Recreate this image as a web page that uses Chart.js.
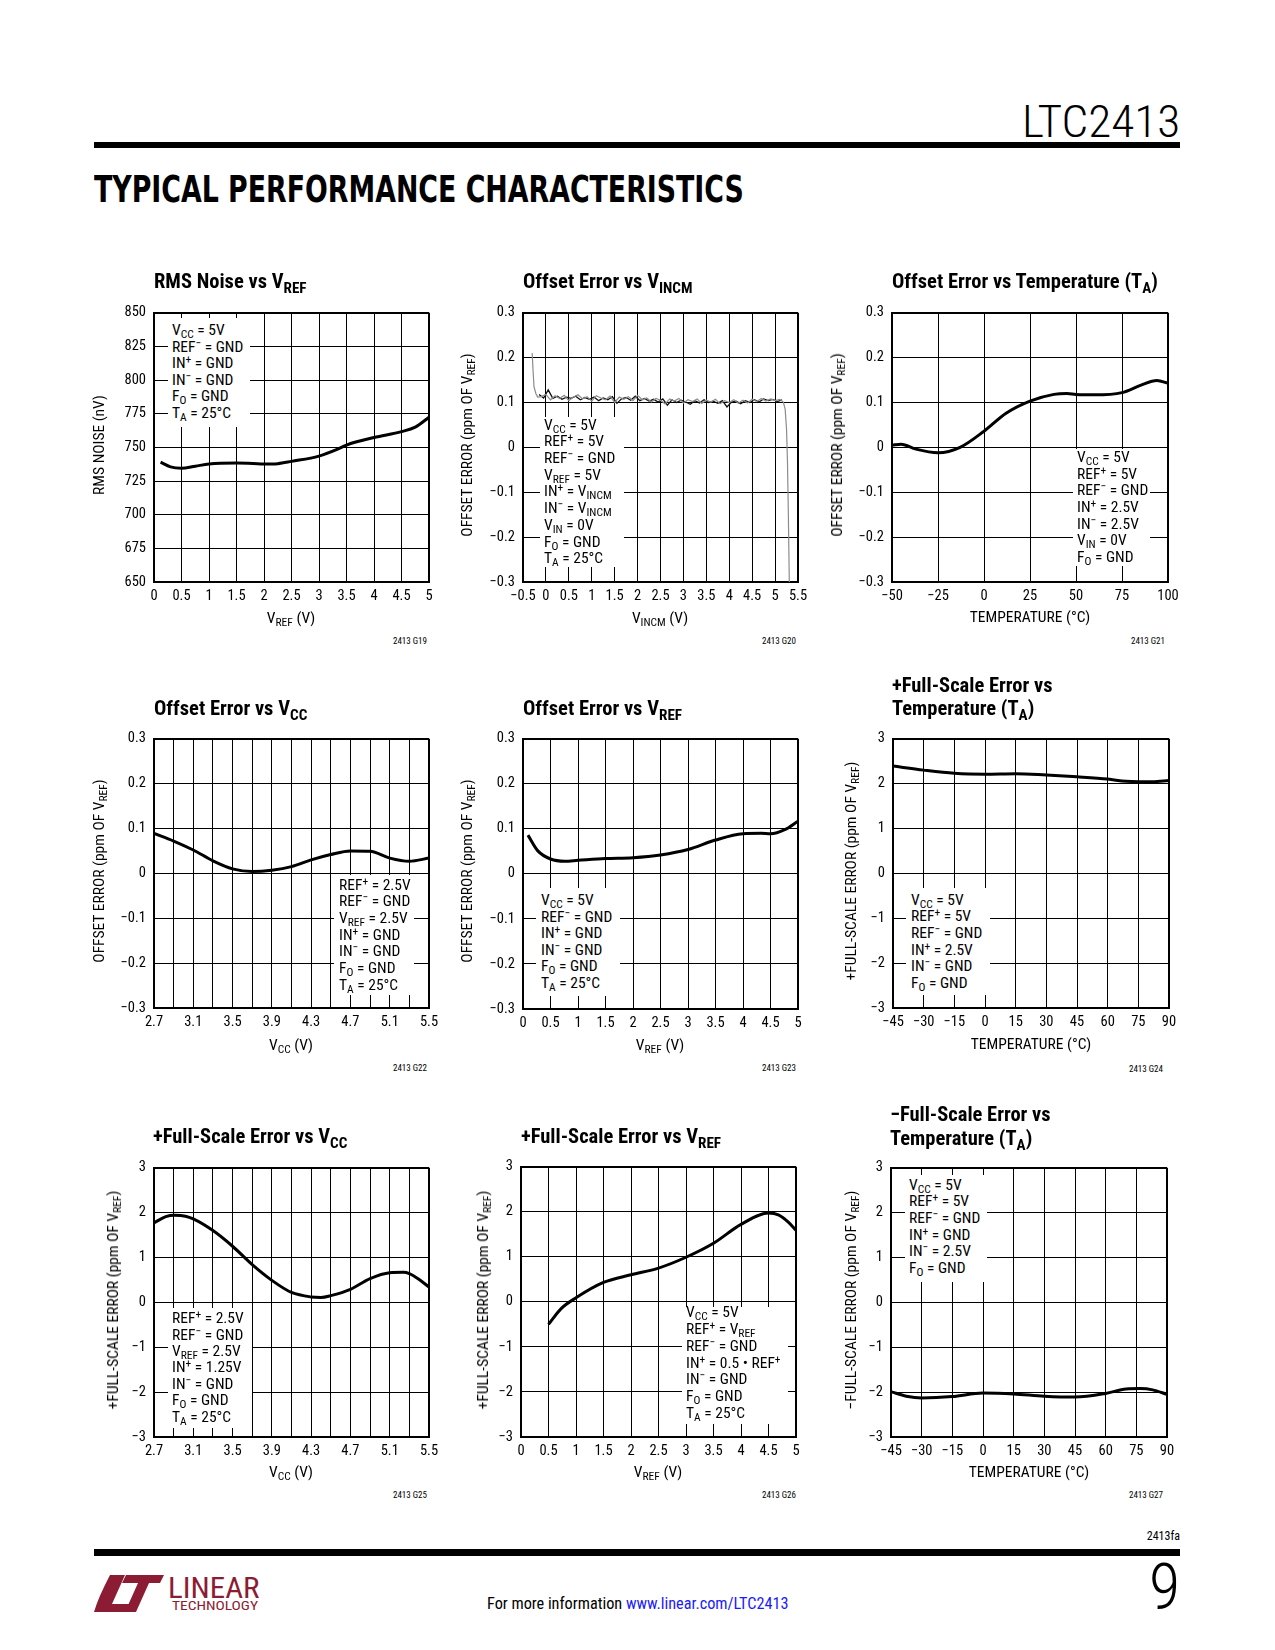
<!DOCTYPE html>
<html>
<head>
<meta charset="utf-8">
<script src="https://cdn.jsdelivr.net/npm/chart.js@4.4.0/dist/chart.umd.min.js"></script>
<style>
html, body { margin: 0; padding: 0; background: #fff; }
body { width: 1275px; height: 1650px; position: relative; overflow: hidden; color: #000;
       font-family: 'Liberation Sans Narrow', 'Arial Narrow', 'Roboto Condensed', 'DejaVu Sans Condensed', sans-serif; }
.t { position: absolute; white-space: nowrap; }
canvas { position: absolute; }
sub { font-size: 0.74em; vertical-align: -0.3em; line-height: 0; }
sup { font-size: 0.74em; vertical-align: 0.45em; line-height: 0; }
.title { font-weight: bold; font-size: 20.5px; line-height: 23px; }
.axt { font-size: 15.5px; line-height: 18px; }
.code { font-size: 9px; line-height: 11px; }
.note { position: absolute; background: #fff; z-index: 2; }
.noteText { position: absolute; z-index: 3; font-size: 15.5px; white-space: nowrap; }
</style>
</head>
<body>
<script>
const FONT = "'Liberation Sans Narrow', 'Arial Narrow', 'Roboto Condensed', 'DejaVu Sans Condensed', sans-serif";

// G19 RMS noise vs VREF
const g19Vref  = [0.12, 0.3, 0.5, 0.75, 1.0, 1.5, 1.8, 2.0, 2.25, 2.5, 3.0, 3.35, 3.5, 4.0, 4.5, 4.75, 5.0];
const g19Noise = [739, 735.5, 734.5, 736, 737.6, 738.3, 738, 737.6, 737.9, 739.6, 743.5, 748.8, 751.7, 757.3, 761.7, 765, 772.3];

// G20 offset error vs VINCM (two overlaid noisy traces)
const g20GrayX = [-0.30, -0.28, -0.26, -0.22, -0.18, -0.1, 0.0, 0.1, 0.2, 0.3, 0.4, 0.5, 0.6, 0.7, 0.8, 0.9,
                  1.0, 1.1, 1.2, 1.3, 1.4, 1.5, 1.6, 1.7, 1.8, 1.9, 2.0, 2.1, 2.2, 2.3, 2.4, 2.5, 2.6, 2.7, 2.8, 2.9,
                  3.0, 3.1, 3.2, 3.3, 3.4, 3.5, 3.6, 3.7, 3.8, 3.9, 4.0, 4.1, 4.2, 4.3, 4.4, 4.5, 4.6, 4.7, 4.8, 4.9,
                  5.0, 5.1, 5.18, 5.22, 5.25, 5.27, 5.29, 5.31];
const g20GrayY = [0.21, 0.17, 0.135, 0.12, 0.112, 0.113, 0.118, 0.106, 0.115, 0.109, 0.116, 0.104, 0.112, 0.117, 0.108, 0.113,
                  0.103, 0.115, 0.110, 0.106, 0.114, 0.100, 0.112, 0.107, 0.113, 0.104, 0.116, 0.106, 0.110, 0.101, 0.109, 0.105, 0.097, 0.108, 0.103, 0.109,
                  0.099, 0.106, 0.102, 0.108, 0.098, 0.105, 0.101, 0.107, 0.097, 0.104, 0.100, 0.106, 0.098, 0.105, 0.099, 0.107, 0.102, 0.109, 0.103, 0.108,
                  0.104, 0.107, 0.101, 0.085, 0.04, -0.03, -0.15, -0.30];
const g20BlackX = [-0.15, -0.05, 0.05, 0.15, 0.25, 0.35, 0.45, 0.55, 0.65, 0.75, 0.85, 0.95,
                   1.05, 1.15, 1.25, 1.35, 1.45, 1.55, 1.65, 1.75, 1.85, 1.95,
                   2.05, 2.15, 2.25, 2.35, 2.45, 2.55, 2.65, 2.75, 2.85, 2.95,
                   3.05, 3.15, 3.25, 3.35, 3.45, 3.55, 3.65, 3.75, 3.85, 3.95,
                   4.05, 4.15, 4.25, 4.35, 4.45, 4.55, 4.65, 4.75, 4.85, 4.95, 5.05, 5.15];
const g20BlackY = [0.118, 0.110, 0.128, 0.109, 0.114, 0.107, 0.112, 0.109, 0.114, 0.106, 0.111, 0.107,
                   0.112, 0.104, 0.110, 0.106, 0.113, 0.098, 0.108, 0.111, 0.105, 0.114,
                   0.104, 0.109, 0.103, 0.107, 0.101, 0.108, 0.094, 0.106, 0.100, 0.105,
                   0.101, 0.096, 0.104, 0.099, 0.106, 0.100, 0.103, 0.098, 0.104, 0.090,
                   0.101, 0.103, 0.097, 0.104, 0.100, 0.106, 0.101, 0.108, 0.104, 0.107, 0.102, 0.106];

// G21 offset error vs temperature
const g21Temp   = [-50, -45, -37, -25, -13, 0, 12, 25, 38, 45, 50, 60, 75, 85, 94, 100];
const g21Offset = [0.005, 0.007, -0.004, -0.012, 0.0, 0.036, 0.076, 0.103, 0.118, 0.120, 0.118, 0.117, 0.122, 0.138, 0.149, 0.143];

// G22 offset error vs VCC
const g22Vcc    = [2.7, 2.9, 3.1, 3.3, 3.5, 3.7, 3.9, 4.1, 4.3, 4.5, 4.7, 4.9, 5.1, 5.3, 5.5];
const g22Offset = [0.089, 0.072, 0.052, 0.028, 0.010, 0.004, 0.007, 0.015, 0.030, 0.042, 0.050, 0.049, 0.034, 0.027, 0.034];

// G23 offset error vs VREF
const g23Vref   = [0.09, 0.27, 0.5, 0.76, 1.0, 1.5, 2.0, 2.5, 3.0, 3.5, 4.0, 4.33, 4.5, 4.76, 5.0];
const g23Offset = [0.086, 0.051, 0.033, 0.028, 0.030, 0.034, 0.036, 0.042, 0.054, 0.075, 0.089, 0.090, 0.089, 0.098, 0.117];

// G24 +full-scale error vs temperature
const g24Temp = [-45, -30, -15, 0, 15, 30, 45, 60, 69, 75, 82, 90];
const g24Err  = [2.39, 2.30, 2.23, 2.21, 2.22, 2.19, 2.15, 2.10, 2.05, 2.04, 2.04, 2.07];

// G25 +full-scale error vs VCC
const g25Vcc = [2.7, 2.82, 2.91, 3.02, 3.1, 3.3, 3.5, 3.7, 3.9, 4.1, 4.3, 4.4, 4.5, 4.7, 4.9, 5.1, 5.24, 5.3, 5.4, 5.5];
const g25Err = [1.77, 1.91, 1.94, 1.92, 1.86, 1.60, 1.25, 0.84, 0.49, 0.22, 0.12, 0.11, 0.15, 0.29, 0.53, 0.66, 0.67, 0.64, 0.51, 0.34];

// G26 +full-scale error vs VREF
const g26Vref = [0.5, 0.73, 1.0, 1.5, 2.0, 2.5, 3.0, 3.5, 4.0, 4.5, 4.68, 4.86, 5.0];
const g26Err  = [-0.50, -0.15, 0.09, 0.43, 0.60, 0.75, 0.99, 1.30, 1.72, 1.97, 1.93, 1.77, 1.59];

// G27 -full-scale error vs temperature
const g27Temp = [-45, -37.5, -30, -15, 0, 15, 30, 45, 60, 70, 77, 83, 90];
const g27Err  = [-1.99, -2.09, -2.13, -2.10, -2.02, -2.04, -2.09, -2.11, -2.03, -1.93, -1.92, -1.95, -2.05];

// axis ranges: [min, max, step, label every n-th tick]
const axVref  = [0, 5, 0.5, 1];
const axVincm = [-0.5, 5.5, 0.5, 1];
const axTemp1 = [-50, 100, 25, 1];
const axTemp2 = [-45, 90, 15, 1];
const axVcc   = [2.7, 5.5, 0.2, 2];
const axNoise = [650, 850, 25, 1];
const axOff   = [-0.3, 0.3, 0.1, 1];
const axFs    = [-3, 3, 1, 1];

const Y_W = 60, X_H = 30, PAD_T = 12, PAD_R = 24;

function fmt(v) {
    const s = Math.abs(v).toFixed(1).replace(/\.0$/, '');
    return (v < -1e-9 ? '\u2212' : '') + s;
}

function axis(a, dir) {
    return {
        type: 'linear', min: a[0], max: a[1],
        afterFit: s => { if (dir === 'x') s.height = X_H; else s.width = Y_W; },
        ticks: {
            stepSize: a[2], autoSkip: false, maxRotation: 0, color: '#000',
            padding: dir === 'x' ? 6 : 8,
            font: { family: FONT, size: 14.5 },
            callback: (v, i) => (i % a[3]) ? '' : fmt(v)
        },
        grid: {
            color: '#000', drawTicks: false,
            lineWidth: c => (c.index === 0 || c.index === c.scale.ticks.length - 1) ? 2 : 1
        },
        border: { color: '#000', width: 2 }
    };
}

function plot(area, xa, ya, series) {
    const [L, T, W, H] = area;
    const cv = document.createElement('canvas');
    const cw = W + Y_W + PAD_R, ch = H + PAD_T + X_H;
    cv.width = cw; cv.height = ch;
    cv.style.left = (L - Y_W) + 'px';
    cv.style.top = (T - PAD_T) + 'px';
    cv.style.width = cw + 'px';
    cv.style.height = ch + 'px';
    document.body.appendChild(cv);
    new Chart(cv, {
        type: 'scatter',
        data: {
            datasets: series.map(s => ({
                data: s.x.map((x, i) => ({ x: x, y: s.y[i] })),
                showLine: true,
                borderColor: s.color || '#000',
                borderWidth: s.width || 3,
                pointRadius: 0,
                cubicInterpolationMode: s.raw ? 'default' : 'monotone',
                tension: s.raw ? 0 : 0.4
            }))
        },
        options: {
            responsive: false, animation: false, devicePixelRatio: 1, events: [],
            layout: { padding: { left: 0, top: PAD_T, right: PAD_R, bottom: 0 } },
            plugins: { legend: { display: false }, tooltip: { enabled: false } },
            scales: { x: axis(xa, 'x'), y: axis(ya, 'y') }
        }
    });
}

function text(x, y, html, cls, align) {
    const d = document.createElement('div');
    d.className = 't ' + (cls || '');
    d.innerHTML = html;
    d.style.left = x + 'px';
    d.style.top = y + 'px';
    if (align === 'right') d.style.transform = 'translateX(-100%)';
    if (align === 'center') d.style.transform = 'translate(-50%, -50%)';
    if (align === 'rot') d.style.transform = 'translate(-50%, -50%) rotate(-90deg)';
    document.body.appendChild(d);
    return d;
}

function note(box, tx, firstY, gap, lines) {
    const b = document.createElement('div');
    b.className = 'note';
    b.style.left = box[0] + 'px'; b.style.top = box[1] + 'px';
    b.style.width = (box[2] - box[0]) + 'px'; b.style.height = (box[3] - box[1]) + 'px';
    document.body.appendChild(b);
    const t = document.createElement('div');
    t.className = 'noteText';
    t.style.left = tx + 'px';
    t.style.top = (firstY - gap / 2) + 'px';
    t.style.lineHeight = gap + 'px';
    t.innerHTML = lines.join('<br>');
    document.body.appendChild(t);
}

// plot areas [left, top, width, height]
plot([154, 308, 275, 274], axVref, axNoise, [{ x: g19Vref, y: g19Noise }]);
plot([523, 308, 275, 274], axVincm, axOff, [
    { x: g20GrayX, y: g20GrayY, color: '#8c8c8c', width: 1.2, raw: true },
    { x: g20BlackX, y: g20BlackY, color: '#111', width: 1.3, raw: true }
]);
plot([892, 308, 276, 274], axTemp1, axOff, [{ x: g21Temp, y: g21Offset }]);
plot([154, 734, 275, 274], axVcc, axOff, [{ x: g22Vcc, y: g22Offset }]);
plot([523, 734, 275, 275], axVref, axOff, [{ x: g23Vref, y: g23Offset }]);
plot([893, 734, 276, 274], axTemp2, axFs, [{ x: g24Temp, y: g24Err }]);
plot([154, 1163, 275, 274], axVcc, axFs, [{ x: g25Vcc, y: g25Err }]);
plot([521, 1162, 275, 275], axVref, axFs, [{ x: g26Vref, y: g26Err }]);
plot([891, 1163, 276, 274], axTemp2, axFs, [{ x: g27Temp, y: g27Err }]);

// chart titles
text(154, 270, 'RMS Noise vs V<sub>REF</sub>', 'title');
text(523, 270, 'Offset Error vs V<sub>INCM</sub>', 'title');
text(892, 270, 'Offset Error vs Temperature (T<sub>A</sub>)', 'title');
text(154, 697, 'Offset Error vs V<sub>CC</sub>', 'title');
text(523, 697, 'Offset Error vs V<sub>REF</sub>', 'title');
text(892, 674, '+Full-Scale Error vs<br>Temperature (T<sub>A</sub>)', 'title');
text(153, 1125, '+Full-Scale Error vs V<sub>CC</sub>', 'title');
text(521, 1125, '+Full-Scale Error vs V<sub>REF</sub>', 'title');
text(890, 1102, '\u2212Full-Scale Error vs<br>Temperature (T<sub>A</sub>)', 'title').style.lineHeight = '24px';

// x axis titles
const vref = 'V<sub>REF</sub> (V)', vcc = 'V<sub>CC</sub> (V)', temp = 'TEMPERATURE (°C)';
text(291, 618, vref, 'axt', 'center');
text(660, 618, 'V<sub>INCM</sub> (V)', 'axt', 'center');
text(1030, 617, temp, 'axt', 'center');
text(291, 1045, vcc, 'axt', 'center');
text(660, 1045, vref, 'axt', 'center');
text(1031, 1044, temp, 'axt', 'center');
text(291, 1472, vcc, 'axt', 'center');
text(658, 1472, vref, 'axt', 'center');
text(1029, 1472, temp, 'axt', 'center');

// y axis titles
const offT = 'OFFSET ERROR (ppm OF V<sub>REF</sub>)';
const fsT = 'FULL-SCALE ERROR (ppm OF V<sub>REF</sub>)';
text(99, 445, 'RMS NOISE (nV)', 'axt', 'rot');
text(467, 445, offT, 'axt', 'rot');
text(837, 445, offT, 'axt', 'rot');
text(99, 871, offT, 'axt', 'rot');
text(467, 871, offT, 'axt', 'rot');
text(851, 871, '+' + fsT, 'axt', 'rot');
text(113, 1300, '+' + fsT, 'axt', 'rot');
text(483, 1300, '+' + fsT, 'axt', 'rot');
text(851, 1300, '\u2212' + fsT, 'axt', 'rot');

// figure codes
[[427, 636, 'G19'], [796, 636, 'G20'], [1165, 636, 'G21'],
 [427, 1063, 'G22'], [796, 1063, 'G23'], [1163, 1064, 'G24'],
 [427, 1490, 'G25'], [796, 1490, 'G26'], [1163, 1490, 'G27']].forEach(c => text(c[0], c[1], '2413 ' + c[2], 'code', 'right'));

// condition boxes
note([168, 318, 250, 427], 172, 330.7, 16.5,
    ['V<sub>CC</sub> = 5V', 'REF<sup>\u2212</sup> = GND', 'IN<sup>+</sup> = GND', 'IN<sup>\u2212</sup> = GND', 'F<sub>O</sub> = GND', 'T<sub>A</sub> = 25°C']);
note([540, 417, 624, 567], 544, 425, 16.7,
    ['V<sub>CC</sub> = 5V', 'REF<sup>+</sup> = 5V', 'REF<sup>\u2212</sup> = GND', 'V<sub>REF</sub> = 5V', 'IN<sup>+</sup> = V<sub>INCM</sub>',
     'IN<sup>\u2212</sup> = V<sub>INCM</sub>', 'V<sub>IN</sub> = 0V', 'F<sub>O</sub> = GND', 'T<sub>A</sub> = 25°C']);
note([1073, 449, 1150, 566], 1077, 457.3, 16.67,
    ['V<sub>CC</sub> = 5V', 'REF<sup>+</sup> = 5V', 'REF<sup>\u2212</sup> = GND', 'IN<sup>+</sup> = 2.5V', 'IN<sup>\u2212</sup> = 2.5V', 'V<sub>IN</sub> = 0V', 'F<sub>O</sub> = GND']);
note([334, 875, 414, 995], 339, 885, 16.67,
    ['REF<sup>+</sup> = 2.5V', 'REF<sup>\u2212</sup> = GND', 'V<sub>REF</sub> = 2.5V', 'IN<sup>+</sup> = GND', 'IN<sup>\u2212</sup> = GND', 'F<sub>O</sub> = GND', 'T<sub>A</sub> = 25°C']);
note([536, 888, 620, 996], 541, 900.7, 16.5,
    ['V<sub>CC</sub> = 5V', 'REF<sup>\u2212</sup> = GND', 'IN<sup>+</sup> = GND', 'IN<sup>\u2212</sup> = GND', 'F<sub>O</sub> = GND', 'T<sub>A</sub> = 25°C']);
note([906, 888, 990, 995], 911, 900, 16.67,
    ['V<sub>CC</sub> = 5V', 'REF<sup>+</sup> = 5V', 'REF<sup>\u2212</sup> = GND', 'IN<sup>+</sup> = 2.5V', 'IN<sup>\u2212</sup> = GND', 'F<sub>O</sub> = GND']);
note([168, 1308, 252, 1428], 172, 1318.3, 16.4,
    ['REF<sup>+</sup> = 2.5V', 'REF<sup>\u2212</sup> = GND', 'V<sub>REF</sub> = 2.5V', 'IN<sup>+</sup> = 1.25V', 'IN<sup>\u2212</sup> = GND', 'F<sub>O</sub> = GND', 'T<sub>A</sub> = 25°C']);
note([682, 1307, 788, 1424], 686, 1312.7, 16.8,
    ['V<sub>CC</sub> = 5V', 'REF<sup>+</sup> = V<sub>REF</sub>', 'REF<sup>\u2212</sup> = GND', 'IN<sup>+</sup> = 0.5 • REF<sup>+</sup>', 'IN<sup>\u2212</sup> = GND', 'F<sub>O</sub> = GND', 'T<sub>A</sub> = 25°C']);
note([905, 1175, 987, 1282], 909, 1185, 16.67,
    ['V<sub>CC</sub> = 5V', 'REF<sup>+</sup> = 5V', 'REF<sup>\u2212</sup> = GND', 'IN<sup>+</sup> = GND', 'IN<sup>\u2212</sup> = 2.5V', 'F<sub>O</sub> = GND']);

// page header / footer
function fitW(el, w) {
    el.style.transformOrigin = 'left top';
    el.style.transform = 'scaleX(' + (w / el.offsetWidth) + ')';
}
const part = text(1022, 100, 'LTC2413', '', null);
part.style.fontSize = '44px'; part.style.lineHeight = '44px'; part.style.fontWeight = '300';
fitW(part, 158);

const bar1 = text(94, 142, '', '', null);
bar1.style.width = '1086px'; bar1.style.height = '6px'; bar1.style.background = '#000';

const head = text(94, 170, 'TYPICAL PERFORMANCE CHARACTERISTICS', '', null);
head.style.fontFamily = "'DejaVu Sans Condensed', 'DejaVu Sans', sans-serif";
head.style.fontWeight = 'bold'; head.style.fontSize = '38px'; head.style.lineHeight = '38px';
fitW(head, 650);

const fa = text(1180, 1529, '2413fa', '', 'right');
fa.style.fontSize = '12px'; fa.style.lineHeight = '14px';

const bar2 = text(94, 1549, '', '', null);
bar2.style.width = '1086px'; bar2.style.height = '7px'; bar2.style.background = '#000';

const pg = text(1180, 1556, '9', '', 'right');
pg.style.fontSize = '64px'; pg.style.lineHeight = '64px'; pg.style.fontWeight = '300';

const more = text(487, 1595, 'For more information <span style="color:#1a1aff">www.linear.com/LTC2413</span>', '', null);
more.style.fontSize = '16px'; more.style.lineHeight = '18px';
fitW(more, 302);

// logo
const logo = document.createElementNS('http://www.w3.org/2000/svg', 'svg');
logo.setAttribute('width', '80'); logo.setAttribute('height', '40');
logo.style.position = 'absolute'; logo.style.left = '92px'; logo.style.top = '1574px';
logo.innerHTML = '<path fill="#8c1c33" d="M18 1 L33 1 L20 30 L40 30 L36 38 L2 38 Q6 24 18 1 Z"/>' +
                 '<path fill="#8c1c33" d="M34 1 L72 1 L68 9 L57 9 L44 38 L33 38 L46 9 L30 9 Z"/>';
document.body.appendChild(logo);
const lin = text(168, 1573, 'LINEAR', '', null);
lin.style.fontSize = '30px'; lin.style.lineHeight = '30px'; lin.style.color = '#8c1c33';
fitW(lin, 92);
const tech = text(172, 1600, 'TECHNOLOGY', '', null);
tech.style.fontSize = '12px'; tech.style.lineHeight = '13px'; tech.style.color = '#8c1c33';
fitW(tech, 86);
</script>
</body>
</html>
